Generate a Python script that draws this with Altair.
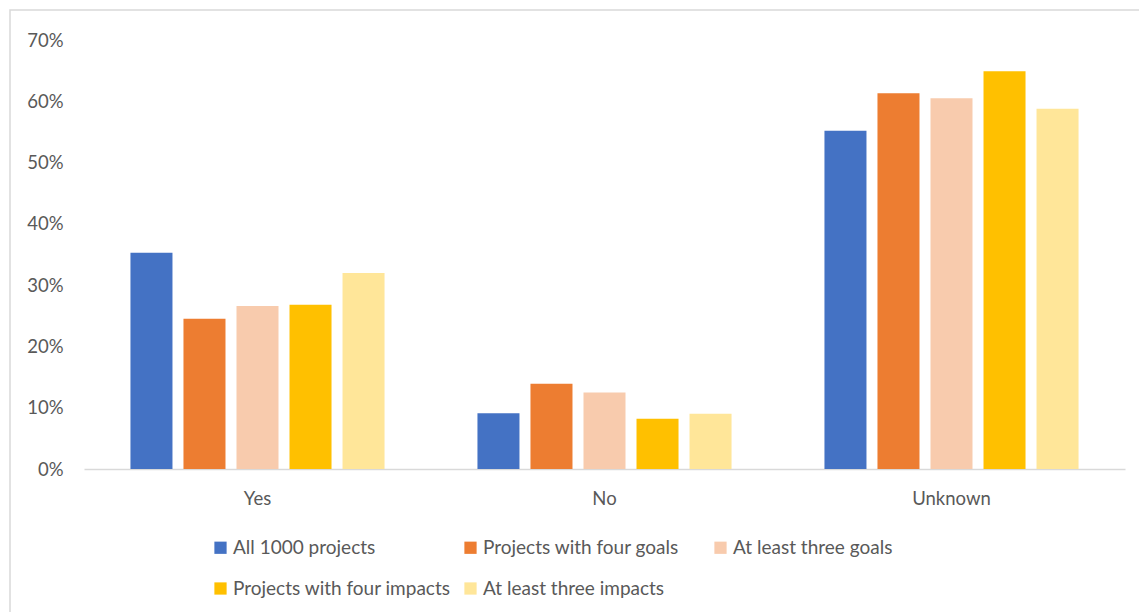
import altair as alt
import pandas as pd

categories = ["Yes", "No", "Unknown"]
series = [
    "All 1000 projects",
    "Projects with four goals",
    "At least three goals",
    "Projects with four impacts",
    "At least three impacts",
]
colors = ["#4472C4", "#ED7D31", "#F8CBAD", "#FFC000", "#FFE699"]

all_1000 = [0.353, 0.091, 0.552]
four_goals = [0.245, 0.139, 0.613]
three_goals = [0.266, 0.125, 0.605]
four_impacts = [0.268, 0.082, 0.649]
three_impacts = [0.320, 0.090, 0.588]

values = [all_1000, four_goals, three_goals, four_impacts, three_impacts]
rows = []
for s, vals in zip(series, values):
    for c, v in zip(categories, vals):
        rows.append({"category": c, "series": s, "value": v})
df = pd.DataFrame(rows)

FONT = "Lato"
GREY = "#595959"

frame = alt.Chart(pd.DataFrame({"a": [0]})).mark_rect(
    filled=False, stroke="#D9D9D9", strokeWidth=1.5
).encode(
    x=alt.value(-74), x2=alt.value(1100), y=alt.value(-30), y2=alt.value(620)
)

bars = alt.Chart(df).mark_bar().encode(
    x=alt.X(
        "category:N",
        sort=categories,
        scale=alt.Scale(paddingInner=0.236, paddingOuter=0.118),
        axis=alt.Axis(
            title=None, labelAngle=0, ticks=False, domainColor="#D9D9D9",
            domainWidth=1.5, labelFontSize=18.5, labelColor=GREY, labelFont=FONT,
            labelPadding=20,
        ),
    ),
    xOffset=alt.XOffset(
        "series:N", sort=series,
        scale=alt.Scale(paddingInner=0.2075, paddingOuter=0.104),
    ),
    y=alt.Y(
        "value:Q",
        scale=alt.Scale(domain=[0, 0.7]),
        axis=alt.Axis(
            title=None, format=".0%", values=[0, 0.1, 0.2, 0.3, 0.4, 0.5, 0.6, 0.7],
            grid=False, ticks=False, domain=False, labelFontSize=18.5,
            labelColor=GREY, labelFont=FONT, labelPadding=21,
        ),
    ),
    color=alt.Color(
        "series:N", sort=series,
        scale=alt.Scale(domain=series, range=colors),
        legend=alt.Legend(
            title=None, orient="none", legendX=127, legendY=498, columns=3,
            direction="horizontal", gridAlign="all",
            symbolType="square", symbolSize=150, symbolStrokeWidth=0,
            labelFontSize=19, labelColor=GREY, labelFont=FONT, labelOffset=3,
            columnPadding=10, rowPadding=21, labelLimit=400,
        ),
    ),
)

chart = alt.layer(frame, bars).properties(
    width=1041, height=429,
    autosize=alt.AutoSizeParams(type="none"),
    padding={"left": 84, "top": 40, "right": 14, "bottom": 143},
).configure_view(stroke=None)

chart.save("out.html", embed_options={"renderer": "svg", "actions": False})
